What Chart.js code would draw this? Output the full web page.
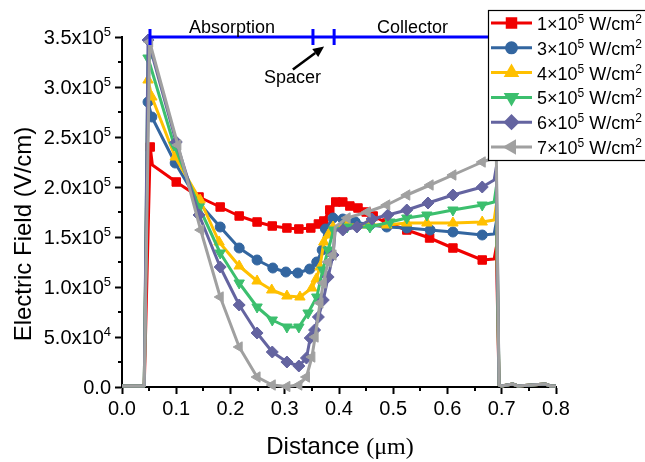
<!DOCTYPE html>
<html><head><meta charset="utf-8">
<script src="https://cdn.jsdelivr.net/npm/chart.js@4.4.1/dist/chart.umd.min.js"></script>
<style>html,body{margin:0;padding:0;background:#fff;}canvas{display:block;}</style>
</head><body>
<canvas id="c" width="645" height="462"></canvas>
<script>
// ---- data (Distance in µm, Electric field in V/cm) ----
const seriesNames = ['1', '3', '4', '5', '6', '7']; // ×10^5 W/cm^2
const headX = [0, 0.041];
const headE = [1000, 1000];
const tailX = [0.695, 0.700, 0.720, 0.730, 0.780, 0.790, 0.800];
const tailE = [2000, 1000, 3000, 1000, 3000, 1000, 1000];

const x1 = [0.052,0.056,0.100,0.142,0.181,0.216,0.249,0.277,0.304,0.326,0.348,0.362,0.372,0.383,0.394,0.407,0.420,0.435,0.450,0.463,0.488,0.525,0.567,0.610,0.664,0.686,0.690];
const e1 = [240000,222000,205000,190000,180000,171000,165000,161000,159000,158000,159000,163000,166000,177000,185000,185000,181000,179000,175000,171000,164000,157000,149000,139000,127000,128000,140000];

const x2 = [0.048,0.055,0.098,0.142,0.181,0.216,0.249,0.278,0.302,0.324,0.346,0.359,0.369,0.375,0.389,0.407,0.430,0.457,0.488,0.525,0.568,0.610,0.664,0.686,0.690];
const e2 = [285000,270000,224000,184000,160000,139000,127000,119000,115000,114000,118000,125000,137000,158000,169000,168000,165000,162000,160000,159000,157000,155000,152000,153000,165000];

const x3 = [0.048,0.055,0.098,0.144,0.179,0.216,0.249,0.276,0.304,0.328,0.350,0.358,0.365,0.372,0.380,0.389,0.415,0.452,0.488,0.525,0.562,0.610,0.664,0.686,0.690];
const e3 = [307000,290000,230000,187000,145000,121000,106000,97000,91000,90000,99000,108000,120000,145000,152000,160000,162000,162000,162000,164000,164000,164000,165000,167000,182000];

const x4 = [0.048,0.096,0.142,0.181,0.216,0.249,0.277,0.304,0.326,0.343,0.359,0.370,0.380,0.390,0.415,0.457,0.494,0.525,0.562,0.610,0.664,0.686,0.690];
const e4 = [329000,242000,180000,134000,104000,80000,67000,60000,60000,74000,90000,117000,137000,157000,160000,160000,165000,169000,172000,177000,182000,185000,200000];

const x5 = [0.048,0.100,0.142,0.181,0.216,0.249,0.277,0.304,0.326,0.340,0.347,0.355,0.362,0.371,0.380,0.389,0.393,0.407,0.433,0.461,0.490,0.525,0.564,0.610,0.664,0.686,0.690];
const e5 = [347000,245000,172000,120000,82000,54000,35000,25000,21000,29000,49000,57000,70000,87000,110000,132000,157000,157000,160000,168000,172000,177000,184000,192000,200000,207000,220000];

const x6 = [0.051,0.103,0.145,0.181,0.216,0.249,0.277,0.304,0.326,0.340,0.350,0.356,0.365,0.371,0.380,0.389,0.393,0.415,0.452,0.488,0.525,0.568,0.610,0.664,0.686,0.690];
const e6 = [345000,242000,157000,90000,40000,10000,2000,500,2000,10000,30000,50000,84000,104000,125000,132000,160000,169000,175000,182000,192000,202000,212000,225000,229000,232000];

const xTickValues = [0, 0.1, 0.2, 0.3, 0.4, 0.5, 0.6, 0.7, 0.8];
const yTickValues = [0, 50000, 100000, 150000, 200000, 250000, 300000, 350000];

// region annotation positions (µm)
const regionEdges = [0.0516, 0.352, 0.391, 0.691];

// ---- styles ----
const colors = ['#f00000', '#3366a0', '#ffc000', '#3cbf6e', '#6464a0', '#a0a0a0'];
const styles = [
  {pointStyle:'rect', radius:6, rotation:0},
  {pointStyle:'circle', radius:5, rotation:0},
  {pointStyle:'triangle', radius:6, rotation:0},
  {pointStyle:'triangle', radius:6, rotation:180},
  {pointStyle:'rectRot', radius:6, rotation:0},
  {pointStyle:'triangle', radius:6, rotation:270}
];
const xs = [x1,x2,x3,x4,x5,x6];
const es = [e1,e2,e3,e4,e5,e6];

function buildPoints(x, e) {
  const X = headX.concat(x, tailX), E = headE.concat(e, tailE);
  return X.map((v, i) => ({x: v, y: E[i]}));
}
function markerRadius(r) {
  return ctx => {
    const d = ctx.dataset.data, i = ctx.dataIndex, p = d[i];
    if (!p || p.x < 0.045 || p.x > 0.68) return 0;
    if (i > 0 && p.x - d[i-1].x < 0.0055) return 0;
    return r;
  };
}

const datasets = xs.map((x, k) => ({
  label: seriesNames[k] + '×10^5 W/cm^2',
  data: buildPoints(x, es[k]),
  borderColor: colors[k],
  backgroundColor: colors[k],
  pointBackgroundColor: colors[k],
  pointBorderColor: colors[k],
  pointBorderWidth: 1,
  pointStyle: styles[k].pointStyle,
  pointRotation: styles[k].rotation,
  pointRadius: markerRadius(styles[k].radius),
  borderWidth: 3,
  borderJoinStyle: 'round',
  tension: 0,
  clip: false,
  order: 6 - k
}));

const SANS = '"Liberation Sans", Arial, sans-serif';
const SERIF = '"Liberation Serif", "Times New Roman", serif';

function supText(ctx, parts, x, y, align) {
  const mainF = parts.mainFont, supF = parts.supFont;
  let w = 0;
  parts.items.forEach(([t, s]) => { ctx.font = s ? supF : mainF; w += ctx.measureText(t).width; });
  let cx = align === 'right' ? x - w : (align === 'center' ? x - w/2 : x);
  parts.items.forEach(([t, s]) => {
    ctx.font = s ? supF : mainF;
    ctx.textAlign = 'left';
    ctx.textBaseline = 'alphabetic';
    ctx.fillText(t, cx, s ? y - parts.raise : y);
    cx += ctx.measureText(t).width;
  });
}

const deco = {
  id: 'deco',
  afterDraw(chart) {
    const {ctx, chartArea, scales: {x, y}} = chart;
    ctx.save();
    ctx.fillStyle = '#000';
    ctx.strokeStyle = '#000';
    // minor ticks
    ctx.lineWidth = 2;
    ctx.beginPath();
    for (let i = 0; i < xTickValues.length - 1; i++) {
      const px = Math.round(x.getPixelForValue((xTickValues[i] + xTickValues[i+1]) / 2));
      ctx.moveTo(px, chartArea.bottom); ctx.lineTo(px, chartArea.bottom + 4);
    }
    for (let i = 0; i < yTickValues.length - 1; i++) {
      const py = Math.round(y.getPixelForValue((yTickValues[i] + yTickValues[i+1]) / 2));
      ctx.moveTo(chartArea.left, py); ctx.lineTo(chartArea.left - 4, py);
    }
    ctx.stroke();

    // y tick labels with superscripts
    yTickValues.forEach(v => {
      const py = y.getPixelForValue(v);
      let items;
      if (v === 0) items = [['0.0', false]];
      else {
        const ex = Math.floor(Math.log10(v));
        const m = (v / Math.pow(10, ex)).toFixed(1);
        items = [[m + 'x10', false], [String(ex), true]];
      }
      supText(ctx, {items, mainFont: '20px ' + SANS, supFont: '13px ' + SANS, raise: 8}, 111, py + 7, 'right');
    });

    // axis titles
    ctx.fillStyle = '#000';
    ctx.save();
    ctx.translate(24, 234);
    ctx.rotate(-Math.PI / 2);
    ctx.font = '24px ' + SANS;
    ctx.textAlign = 'center';
    ctx.textBaseline = 'middle';
    ctx.fillText('Electric Field (V/cm)', 0, 0);
    ctx.restore();

    ctx.font = '24px ' + SANS;
    const t1 = 'Distance ';
    const w1 = ctx.measureText(t1).width;
    ctx.font = '24px ' + SERIF;
    const t2 = '(\u03bcm)';
    const w2 = ctx.measureText(t2).width;
    let sx = 340 - (w1 + w2) / 2;
    ctx.textAlign = 'left'; ctx.textBaseline = 'alphabetic';
    ctx.font = '24px ' + SANS; ctx.fillText(t1, sx, 454);
    ctx.font = '24px ' + SERIF; ctx.fillText(t2, sx + w1, 454);

    // region bar
    const by = y.getPixelForValue(350000);
    const bx = regionEdges.map(v => x.getPixelForValue(v));
    ctx.strokeStyle = '#0000ff';
    ctx.lineWidth = 3;
    ctx.beginPath();
    ctx.moveTo(bx[0], by); ctx.lineTo(bx[3], by);
    bx.forEach(px => { ctx.moveTo(px, by - 8); ctx.lineTo(px, by + 8); });
    ctx.stroke();

    ctx.fillStyle = '#000';
    ctx.font = '18px ' + SANS;
    ctx.textAlign = 'center';
    ctx.textBaseline = 'alphabetic';
    ctx.fillText('Absorption', x.getPixelForValue(0.2028), 33);
    ctx.fillText('Collector', x.getPixelForValue(0.5355), 33);
    ctx.fillText('Spacer', x.getPixelForValue(0.3143), 83);

    // arrow
    const ax0 = x.getPixelForValue(0.315), ay0 = y.getPixelForValue(317500);
    const ax1 = x.getPixelForValue(0.3725), ay1 = y.getPixelForValue(340500);
    const ang = Math.atan2(ay1 - ay0, ax1 - ax0);
    const hl = 11, hw = 5;
    ctx.strokeStyle = '#000'; ctx.lineWidth = 2.5;
    ctx.beginPath();
    ctx.moveTo(ax0, ay0);
    ctx.lineTo(ax1 - hl * Math.cos(ang), ay1 - hl * Math.sin(ang));
    ctx.stroke();
    ctx.beginPath();
    ctx.moveTo(ax1, ay1);
    ctx.lineTo(ax1 - hl * Math.cos(ang) + hw * Math.sin(ang), ay1 - hl * Math.sin(ang) - hw * Math.cos(ang));
    ctx.lineTo(ax1 - hl * Math.cos(ang) - hw * Math.sin(ang), ay1 - hl * Math.sin(ang) + hw * Math.cos(ang));
    ctx.closePath();
    ctx.fill();

    // legend
    ctx.fillStyle = '#fff';
    ctx.fillRect(488, 10, 170, 150);
    ctx.strokeStyle = '#000'; ctx.lineWidth = 1.2;
    ctx.strokeRect(488.5, 10.5, 170, 150);
    for (let k = 0; k < 6; k++) {
      const ry = 23 + k * 24.8;
      ctx.strokeStyle = colors[k]; ctx.lineWidth = 3;
      ctx.beginPath(); ctx.moveTo(491, ry); ctx.lineTo(532, ry); ctx.stroke();
      ctx.fillStyle = colors[k];
      Chart.helpers.drawPoint(ctx, {pointStyle: styles[k].pointStyle, radius: styles[k].radius, rotation: styles[k].rotation, borderWidth: 1}, 511.5, ry);
      ctx.fillStyle = '#000';
      supText(ctx, {items: [[seriesNames[k] + '\u00d710', false], ['5', true], [' W/cm', false], ['2', true]], mainFont: '18px ' + SANS, supFont: '12px ' + SANS, raise: 7}, 537, ry + 7, 'left');
    }
    ctx.restore();
  }
};

const axisGrid = {drawOnChartArea: false, drawTicks: true, tickLength: 7, tickWidth: 2, tickColor: '#000', color: '#000'};

new Chart(document.getElementById('c').getContext('2d'), {
  type: 'line',
  data: {datasets},
  options: {
    responsive: false,
    animation: false,
    devicePixelRatio: 1,
    layout: {padding: {top: 37, right: 89, left: 0, bottom: 0}},
    plugins: {legend: {display: false}, tooltip: {enabled: false}},
    scales: {
      x: {
        type: 'linear', min: 0, max: 0.8,
        afterFit(s) { s.height = 75; },
        afterBuildTicks(s) { s.ticks = xTickValues.map(v => ({value: v})); },
        ticks: {callback: v => Number(v).toFixed(1), font: {family: SANS, size: 20}, color: '#000', padding: 3, maxRotation: 0, autoSkip: false},
        grid: axisGrid,
        border: {display: true, color: '#000', width: 2}
      },
      y: {
        type: 'linear', min: 0, max: 350000,
        afterFit(s) { s.width = 122; },
        afterBuildTicks(s) { s.ticks = yTickValues.map(v => ({value: v})); },
        ticks: {color: 'rgba(0,0,0,0)', font: {size: 20}, autoSkip: false},
        grid: axisGrid,
        border: {display: true, color: '#000', width: 2}
      }
    }
  },
  plugins: [deco]
});
</script>
</body></html>
